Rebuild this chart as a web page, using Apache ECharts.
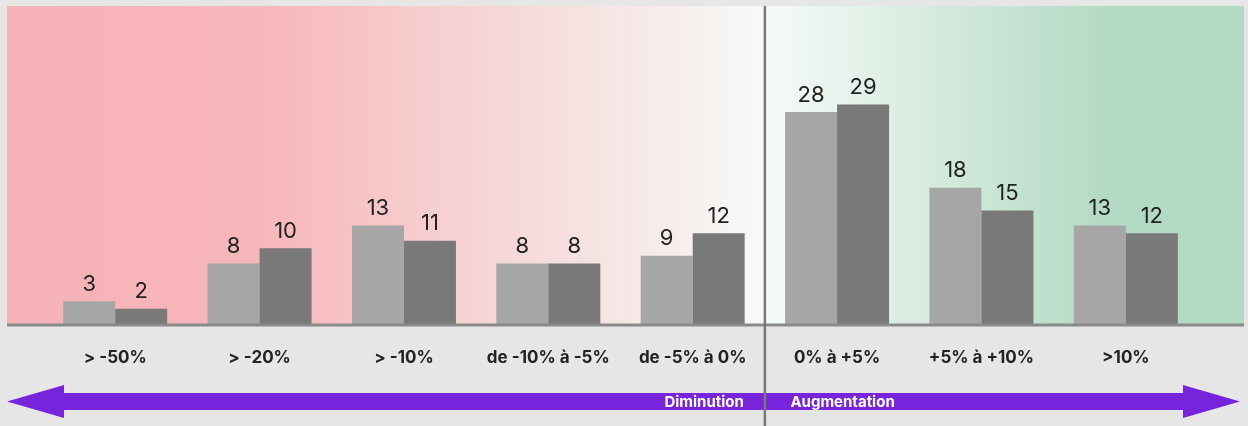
<!DOCTYPE html>
<html><head><meta charset="utf-8">
<script src="https://cdn.jsdelivr.net/npm/echarts@6/dist/echarts.min.js"></script>
<style>html,body{margin:0;padding:0;background:#e6e6e6}#c{width:1248px;height:426px}</style>
</head><body><div id="c"></div>
<script>
const categories = ['> -50%', '> -20%', '> -10%', 'de -10% à -5%', 'de -5% à 0%', '0% à +5%', '+5% à +10%', '>10%'];
const seriesA = [3, 8, 13, 8, 9, 28, 18, 13];
const seriesB = [2, 10, 11, 8, 12, 29, 15, 12];
const arrowLabels = ['Diminution', 'Augmentation'];

const chart = echarts.init(document.getElementById('c'), null, {renderer: 'canvas'});
const FONT = 'Inter, "Noto Sans", sans-serif';
const valueLabel = {show: true, position: 'top', distance: 6, fontSize: 22, color: '#222', fontFamily: FONT};
chart.setOption({
  backgroundColor: '#e6e6e6',
  animation: false,
  grid: {left: 43, right: 50, top: 6, bottom: 102},
  xAxis: {type: 'category', data: categories, axisLine: {show: false}, axisTick: {show: false},
    axisLabel: {interval: 0, margin: 25, fontSize: 17, fontWeight: 'bold', color: '#222', fontFamily: FONT}},
  yAxis: {type: 'value', min: 0, max: 42, show: false, splitLine: {show: false}},
  series: [
    {type: 'bar', data: seriesA, barWidth: 52, barGap: '0%', itemStyle: {color: '#a6a6a6'}, label: valueLabel, z: 3},
    {type: 'bar', data: seriesB, barWidth: 52, barGap: '0%', itemStyle: {color: '#797979'}, label: valueLabel, z: 3}
  ]
});

const y0 = chart.convertToPixel({yAxisIndex: 0}, 0);
const x4 = chart.convertToPixel({xAxisIndex: 0}, categories[4]);
const x5 = chart.convertToPixel({xAxisIndex: 0}, categories[5]);
const xm = (x4 + x5) / 2;
const bgL = 7, bgR = 1244, bgT = 6;
const wp = (xm - bgL) / (bgR - bgL);
const ay = 401.5;

chart.setOption({
  graphic: [
    {type: 'rect', z: -10, silent: true,
      shape: {x: bgL, y: bgT, width: bgR - bgL, height: y0 - bgT},
      style: {fill: new echarts.graphic.LinearGradient(0, 0, 1, 0, [
        {offset: 0, color: '#f5b3b8'},
        {offset: 0.2, color: '#f7b6ba'},
        {offset: wp, color: '#f6faf7'},
        {offset: 0.89, color: '#b3dac5'},
        {offset: 1, color: '#b3dac5'}
      ])}},
    {type: 'polygon', z: 20, silent: true,
      shape: {points: [[7, ay], [64, ay - 16.5], [64, ay - 8.5], [1183, ay - 8.5], [1183, ay - 16.5], [1240, ay], [1183, ay + 16.5], [1183, ay + 8.5], [64, ay + 8.5], [64, ay + 16.5]]},
      style: {fill: '#7823dc'}},
    {type: 'text', z: 21, silent: true, style: {text: arrowLabels[0], x: xm - 21, y: ay + 1, align: 'right', verticalAlign: 'middle', fill: '#fff', font: 'bold 15px Inter, "Noto Sans", sans-serif'}},
    {type: 'text', z: 21, silent: true, style: {text: arrowLabels[1], x: xm + 25.5, y: ay + 1, align: 'left', verticalAlign: 'middle', fill: '#fff', font: 'bold 15px Inter, "Noto Sans", sans-serif'}},
    {type: 'line', z: 30, silent: true, shape: {x1: bgL, y1: y0 + 1, x2: bgR, y2: y0 + 1}, style: {stroke: '#8a8a8a', lineWidth: 3}},
    {type: 'line', z: 31, silent: true, shape: {x1: xm, y1: bgT, x2: xm, y2: 426}, style: {stroke: '#787878', lineWidth: 2.5}}
  ]
});
</script></body></html>
